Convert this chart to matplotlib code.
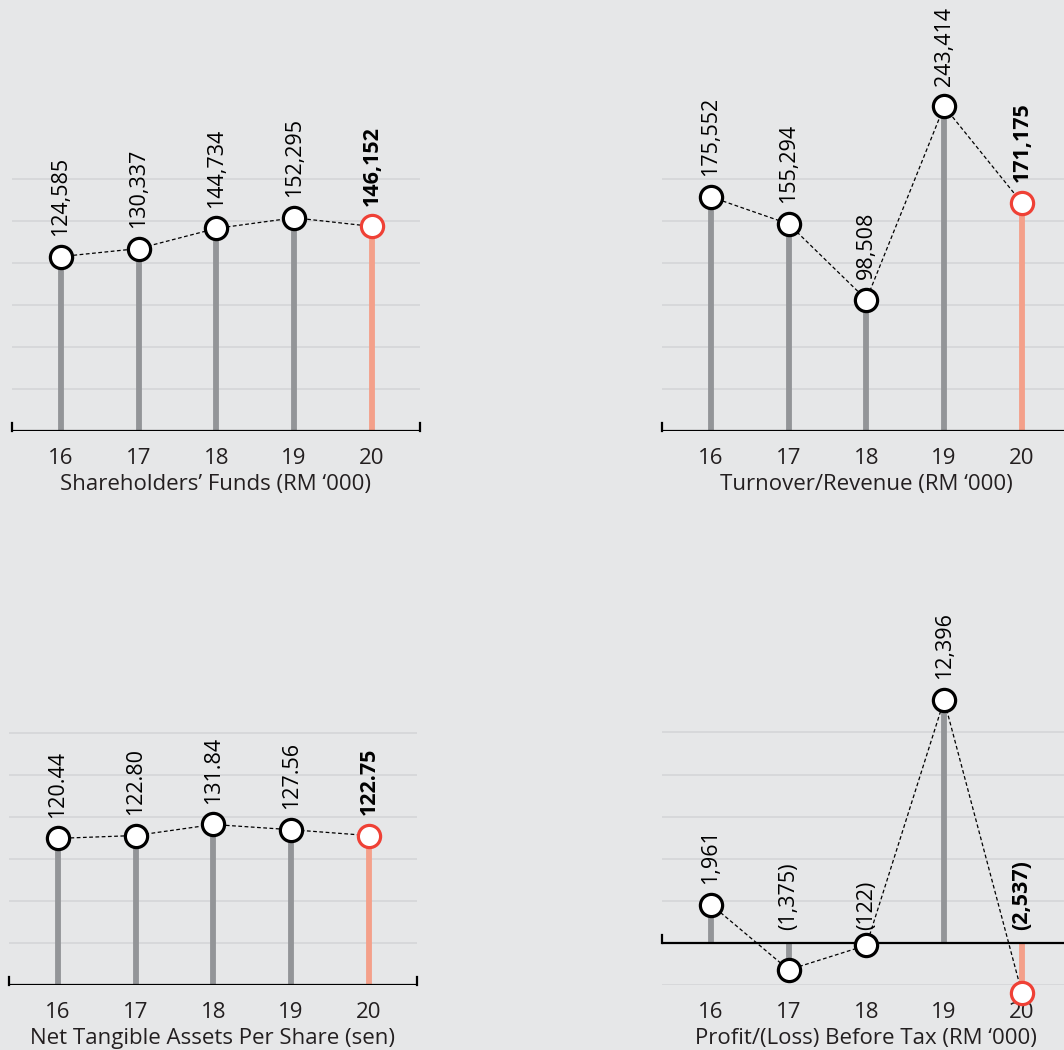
import matplotlib
matplotlib.use("Agg")
import matplotlib.pyplot as plt
from matplotlib.transforms import blended_transform_factory

plt.rcParams['font.family'] = ['Open Sans', 'DejaVu Sans']

BG = "#e6e7e8"
GRID = "#d3d4d6"
STEM = "#939598"
HI_STEM = "#f4a08a"
HI_EDGE = "#ef4136"
INK = "#231f20"

YEARS = [16, 17, 18, 19, 20]

funds = [124585, 130337, 144734, 152295, 146152]
funds_lbl = ["124,585", "130,337", "144,734", "152,295", "146,152"]

revenue = [175552, 155294, 98508, 243414, 171175]
revenue_lbl = ["175,552", "155,294", "98,508", "243,414", "171,175"]

nta = [120.44, 122.80, 131.84, 127.56, 122.75]
nta_lbl = ["120.44", "122.80", "131.84", "127.56", "122.75"]

pbt = [1961, -1375, -122, 12396, -2537]
pbt_lbl = ["1,961", "(1,375)", "(122)", "12,396", "(2,537)"]

TITLES = ["Shareholders\u2019 Funds (RM \u2018000)", "Turnover/Revenue (RM \u2018000)",
          "Net Tangible Assets Per Share (sen)", "Profit/(Loss) Before Tax (RM \u2018000)"]

W, H = 1064, 1050
fig = plt.figure(figsize=(W / 100, H / 100), dpi=100)
fig.patch.set_facecolor(BG)


def px_axes(x0, x1, ytop, ybot):
    ax = fig.add_axes([x0 / W, 1 - ybot / H, (x1 - x0) / W, (ybot - ytop) / H])
    ax.set_facecolor(BG)
    return ax


def panel(ax, vals, lbls, title, step, ymin, ymax, grid_k):
    ax.set_xlim(15.37, 20.62)
    ax.set_ylim(ymin, ymax)
    for k in grid_k:
        ax.axhline(k * step, color=GRID, lw=1.1, zorder=0)
    n = len(YEARS)
    for i, (x, v) in enumerate(zip(YEARS, vals)):
        c = HI_STEM if i == n - 1 else STEM
        ax.plot([x, x], [0, v], color=c, lw=4.2, solid_capstyle="butt", zorder=2, clip_on=False)
    ax.plot(YEARS, vals, color="black", lw=0.9, ls=(0, (3, 2)), zorder=3, clip_on=False)
    for i, (x, v) in enumerate(zip(YEARS, vals)):
        last = i == n - 1
        ax.plot([x], [v], marker="o", ms=16, mfc="white",
                mec=HI_EDGE if last else "black", mew=2.3, zorder=6, clip_on=False)
        # negative values are labelled just above the zero line
        off = 15 if v >= 0 else 9
        ax.annotate(lbls[i], (x, max(v, 0)), xytext=(0, off),
                    textcoords="offset points", rotation=90, ha="center", va="bottom",
                    fontsize=15.5, color="black", fontweight="bold" if last else "normal",
                    zorder=5)
    # baseline with end ticks
    tick = step * 8 / 42
    ax.axhline(0, color="black", lw=1.6, zorder=3)
    tr = blended_transform_factory(ax.transAxes, ax.transData)
    for xe in (0, 1):
        ax.plot([xe, xe], [0, tick], color="black", lw=1.6, transform=tr,
                clip_on=False, zorder=3)
    for s in ax.spines.values():
        s.set_visible(False)
    ax.set_yticks([])
    ax.set_xticks(YEARS)
    ax.set_xticklabels([str(y) for y in YEARS])
    ax.tick_params(axis="x", length=0, pad=12, labelsize=16, colors=INK)
    ax.set_xlabel(title, fontsize=16, color=INK, labelpad=4)


ax1 = px_axes(12, 420, 0, 431)
panel(ax1, funds, funds_lbl, TITLES[0], 30000, 0, 431 / 42 * 30000, range(1, 7))

ax2 = px_axes(662, 1070, 0, 431)
panel(ax2, revenue, revenue_lbl, TITLES[1], 31500, 0, 431 / 42 * 31500, range(1, 7))

ax3 = px_axes(9, 417, 560, 985)
panel(ax3, nta, nta_lbl, TITLES[2], 34.5, 0, 425 / 42 * 34.5, range(1, 7))

ax4 = px_axes(662, 1070, 560, 985)
panel(ax4, pbt, pbt_lbl, TITLES[3], 2150, -2150, (942 - 560) / 42 * 2150, [-1, 1, 2, 3, 4, 5])

fig.savefig("out.png", dpi=100, facecolor=BG)
